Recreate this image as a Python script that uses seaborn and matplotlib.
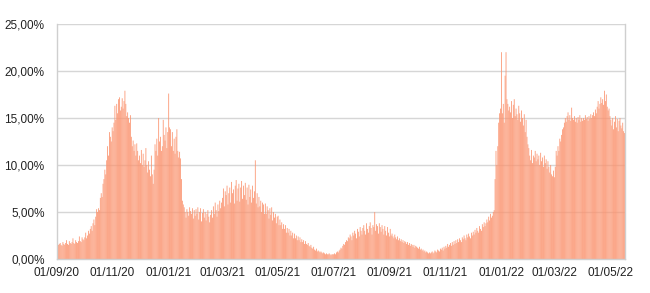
import numpy as np
import pandas as pd
import matplotlib
matplotlib.use("Agg")
import matplotlib.pyplot as plt
import seaborn as sns
from matplotlib.ticker import FuncFormatter

# Daily positivity rate (%)
start_date = "2020-09-01"
sep20 = [1.4,1.5,1.6,1.7,1.5,1.4,1.8, 1.6,1.5,1.7,2.0,1.6,1.5,1.9, 1.7,1.6,1.8,2.2,1.7,1.6,2.0,
         1.8,1.7,1.9,2.4,1.9,1.8,2.3, 2.1,2.0]
oct20 = [2.3,2.8,2.2,2.5,3.0,2.7,3.2, 3.5,3.0,3.8,4.2,3.6,4.5,5.3, 5.0,5.4,5.2,6.5,7.0,6.6,8.0,
         8.5,9.5,9.0,10.5,12.0,11.0,13.5, 13.0,12.5,14.0]
nov20 = [13.6,14.5,16.3,14.8,16.5,15.5,17.0, 17.2,15.8,16.2,17.1,16.0,16.8,17.9, 16.5,15.2,15.6,15.0,14.5,15.3,13.0,
         12.0,12.6,11.5,12.2,11.0,12.3,11.5, 10.5,11.0]
dec20 = [10.2,11.6,10.0,11.2,9.8,10.5,11.8, 10.0,9.2,10.4,9.5,8.8,11.0,9.0, 8.0,9.5,12.2,11.5,12.8,11.0,15.0,
         12.5,13.0,11.5,12.0,14.8,13.2,12.6, 14.0,11.8,13.5]
jan21 = [17.6,14.0,13.8,12.0,13.5,11.5,12.8, 11.2,13.0,13.8,11.5,10.8,11.4,10.7, 8.5,6.2,5.8,5.5,5.0,4.4,5.3,
         5.0,4.6,5.5,5.1,4.8,5.4,4.3, 5.2,4.6,5.3]
feb21 = [4.8,5.5,4.2,5.0,5.4,4.0,4.9, 5.3,4.4,5.0,4.1,4.8,5.2,4.5, 3.9,4.7,5.2,4.4,5.6,4.8,6.0,
         5.2,4.5,5.8,5.1,6.2,5.4,6.0]
mar21 = [6.5,7.5,5.6,7.2,6.8,7.8,5.8, 7.0,7.6,6.0,8.2,7.0,7.4,5.9, 7.8,8.4,6.2,7.5,8.0,6.1,7.6,
         8.3,6.4,7.8,6.8,8.1,6.3,7.6, 5.8,7.9,6.6]
apr21 = [7.4,6.0,7.8,6.5,7.2,10.5,5.9, 7.0,5.5,6.6,5.6,6.2,5.0,6.0, 5.8,4.8,5.9,4.8,5.6,5.2,4.3,
         5.4,4.7,5.5,4.1,5.0,4.4,4.8, 3.8,4.5]
may21 = [4.6,3.6,4.2,3.6,3.9,3.2,3.7, 3.2,3.6,2.8,3.3,2.8,3.2,2.5, 3.0,2.5,2.8,2.2,2.7,2.2,2.5,
         2.0,2.4,2.0,2.3,1.8,2.1,1.8, 2.0,1.6,1.9]
jun21 = [1.6,1.5,1.7,1.4,1.3,1.5,1.2, 1.1,1.3,1.0,0.9,1.1,0.8,0.9, 0.8,0.7,0.8,0.7,0.6,0.7,0.6,
         0.5,0.6,0.5,0.5,0.6,0.5,0.4, 0.5,0.5]
jul21 = [0.5,0.6,0.5,0.7,0.8,0.7,0.9, 1.0,1.2,1.1,1.4,1.6,1.5,1.8, 2.0,1.9,2.3,2.2,2.6,2.4,2.0,
         2.8,2.5,3.0,2.7,2.2,3.2,2.9, 2.4,3.4,3.0]
aug21 = [2.6,3.3,3.6,3.0,2.6,3.8,3.2, 2.8,3.5,3.9,3.3,2.6,3.6,3.4, 5.0,3.0,3.7,3.5,2.7,3.8,3.4,
         2.9,3.6,3.2,2.6,3.5,3.0,2.5, 3.4,2.8,2.4]
sep21 = [3.2,2.5,2.7,2.4,2.2,2.6,2.3, 2.1,2.4,2.0,2.2,1.9,2.1,1.8, 2.0,1.7,1.9,1.8,1.6,1.8,1.5,
         1.7,1.4,1.6,1.5,1.3,1.5,1.2, 1.4,1.3]
oct21 = [1.2,1.1,1.3,1.0,1.1,0.9,1.0, 0.8,0.9,0.7,0.8,0.7,0.6,0.7, 0.6,0.7,0.8,0.6,0.7,0.9,0.8,
         0.7,1.0,0.9,0.8,1.1,1.0,1.2, 0.9,1.3,1.1]
nov21 = [1.4,1.2,1.6,1.3,1.5,1.7,1.4, 1.8,1.5,1.9,1.6,2.0,1.7,2.1, 1.8,2.2,2.0,1.8,2.3,2.1,2.5,
         2.2,2.0,2.6,2.3,2.7,2.4,2.2, 2.8,2.5]
dec21 = [2.9,2.6,3.1,2.8,3.3,3.0,2.8, 3.5,3.2,3.0,3.7,3.4,3.9,3.5, 3.8,4.2,3.9,4.5,4.1,4.8,4.4,
         4.6,5.0,5.2,8.5,11.5,10.0,12.0, 14.5,15.5,16.0]
jan22 = [22.0,15.5,16.5,14.5,19.5,22.0,17.0, 16.5,15.8,16.2,15.6,16.8,15.0,16.4, 17.0,15.2,16.0,15.4,14.8,16.3,15.5,
         14.6,15.8,15.0,14.2,15.4,13.5,14.8, 13.0,12.2,11.8]
feb22 = [11.0,10.5,11.6,10.2,11.0,10.8,11.5, 10.4,11.2,10.6,11.0,10.0,11.3,10.4, 10.8,9.8,11.0,10.2,10.6,9.6,10.4,
         9.8,9.2,10.0,9.0,8.8,9.4,8.7]
mar22 = [9.8,11.5,11.0,12.0,11.5,12.8,12.5, 13.2,13.8,14.0,14.5,15.0,14.6,15.2, 15.6,14.8,15.3,14.7,16.1,15.0,14.8,
         15.2,14.6,15.0,14.5,15.1,14.8,15.3, 14.6,15.0,14.7]
apr22 = [15.0,14.8,15.3,14.9,15.1,14.7,15.2, 14.9,15.4,15.0,15.3,15.6,15.2,15.9, 15.5,16.2,16.8,16.0,16.5,17.2,16.6,
         17.0,16.4,17.9,16.8,17.5,16.2,15.8, 16.0,15.2]
may22 = [14.8,14.2,15.0,13.8,14.6,15.2,14.0, 14.9,13.6,14.7,15.0,14.2,13.9,14.5, 13.6,13.4]

tick_dates = ["2020-09-01", "2020-11-01", "2021-01-01", "2021-03-01", "2021-05-01", "2021-07-01",
              "2021-09-01", "2021-11-01", "2022-01-01", "2022-03-01", "2022-05-01"]
tick_labels = ["01/09/20", "01/11/20", "01/01/21", "01/03/21", "01/05/21", "01/07/21",
               "01/09/21", "01/11/21", "01/01/22", "01/03/22", "01/05/22"]
y_ticks = [0, 5, 10, 15, 20, 25]

values = np.concatenate([sep20, oct20, nov20, dec20, jan21, feb21, mar21, apr21, may21, jun21,
                         jul21, aug21, sep21, oct21, nov21, dec21, jan22, feb22, mar22, apr22, may22])
t0 = pd.Timestamp(start_date)
dates = pd.date_range(t0, periods=len(values), freq="D")
df = pd.DataFrame({"day": (dates - t0).days + 0.5, "rate": values})

sns.set_theme(style="white")
plt.rcParams["font.family"] = ["Liberation Sans", "DejaVu Sans"]

fig = plt.figure(figsize=(6.5, 2.93), dpi=100)
ax = fig.add_axes([57 / 650, 1 - 259 / 293, (625 - 57) / 650, (259 - 24) / 293])

sns.barplot(data=df, x="day", y="rate", native_scale=True, width=0.88,
            color="#fb9470", saturation=1, linewidth=0, errorbar=None, ax=ax)
for p in ax.patches:
    p.set_snap(False)

ax.set_xlim(0, len(values))
ax.set_ylim(0, 25)
tick_pos = [(pd.Timestamp(d) - t0).days for d in tick_dates]
ax.set_xticks(tick_pos)
ax.set_xticklabels(tick_labels)
ax.set_yticks(y_ticks)
ax.yaxis.set_major_formatter(FuncFormatter(lambda v, p: f"{v:.2f}".replace(".", ",") + "%"))

ax.grid(axis="y", color="#d6d6d6", linewidth=1)
ax.grid(axis="x", visible=False)
ax.set_axisbelow(True)
for s in ax.spines.values():
    s.set_visible(True)
    s.set_color("#cfcfcf")
    s.set_linewidth(1)
ax.spines["top"].set_visible(False)

ax.tick_params(axis="x", length=4, width=1, color="#c8c8c8", labelsize=8.5, pad=2, labelcolor="#222222")
ax.tick_params(axis="y", length=0, labelsize=8.5, pad=9, labelcolor="#222222")
ax.set_xlabel("")
ax.set_ylabel("")

fig.savefig("out.png", dpi=100)
